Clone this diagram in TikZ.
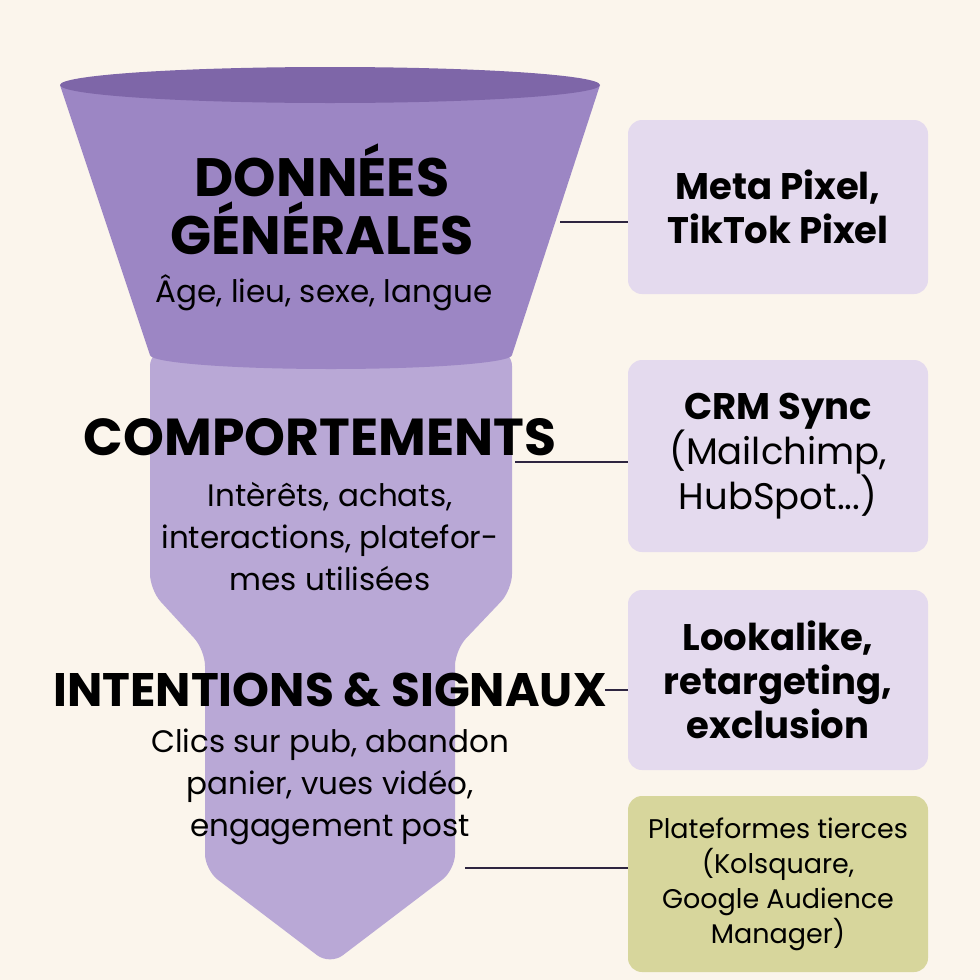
\documentclass[tikz,border=0pt]{standalone}
\usepackage{fontspec}
\setmainfont{Poppins}
\definecolor{cream}{HTML}{FBF5EC}
\definecolor{topdark}{HTML}{7E66A8}
\definecolor{funtop}{HTML}{9C86C4}
\definecolor{funlow}{HTML}{B9A8D6}
\definecolor{boxlila}{HTML}{E4DAEE}
\definecolor{boxolive}{HTML}{D7D69C}
\definecolor{linedark}{HTML}{2E2540}
\tikzset{
  infobox/.style={fill=boxlila, rounded corners=7pt, minimum width=150pt, align=center, font=\fontsize{18.5}{22}\selectfont\bfseries},
  title/.style={align=center, font=\fontsize{27}{29}\selectfont\bfseries},
  sub/.style={align=center, font=\fontsize{15.5}{21}\selectfont},
  link/.style={draw=linedark, line width=0.8pt}
}
\begin{document}
\begin{tikzpicture}[x=0.5pt,y=-0.5pt]
\fill[cream] (0,0) rectangle (980,980);
\useasboundingbox (0,0) rectangle (980,980);
% funnel
\fill[funlow, rounded corners=8pt] (150,350) -- (512,350) -- (512,590) -- (455,650) -- (455,870)
  -- (330,965) -- (205,870) -- (205,650) -- (150,590) -- cycle;
\fill[funtop] (60,85) -- (600,85) -- (512,355) arc[start angle=0, end angle=180, x radius=181, y radius=14] -- cycle;
\fill[topdark] (330,85) ellipse[x radius=270, y radius=18];
% texts in funnel
\node[title] (t1) at (322,199) {DONNÉES\\GÉNÉRALES};
\node[sub] (s1) at (324,293) {Âge, lieu, sexe, langue};
\node[title, font=\fontsize{26}{29}\selectfont\bfseries] (t2) at (320,437) {COMPORTEMENTS};
\node[sub] (s2) at (330,537) {Intèrêts, achats,\\interactions, platefor-\\mes utilisées};
\node[title, font=\fontsize{23.5}{29}\selectfont\bfseries] (t3) at (330,690) {INTENTIONS \& SIGNAUX};
\node[sub] (s3) at (330,787) {Clics sur pub, abandon\\panier, vues vidéo,\\engagement post};
% boxes
\node[infobox, minimum height=87pt] (b1) at (778,207) {Meta Pixel,\\TikTok Pixel};
\node[infobox, minimum height=96pt, font=\fontsize{18.5}{22.5}\selectfont\bfseries] (b2) at (778,456) {CRM Sync\\{\mdseries(Mailchimp,}\\{\mdseries HubSpot...)}};
\node[infobox, minimum height=90pt] (b3) at (778,680) {Lookalike,\\retargeting,\\exclusion};
\node[infobox, fill=boxolive, minimum height=88pt, font=\fontsize{13.5}{17.5}\selectfont] (b4) at (778,884) {Plateformes tierces\\(Kolsquare,\\Google Audience\\Manager)};
% links
\coordinate (c1) at (560,222);
\coordinate (c2) at (515,462);
\coordinate (c3) at (605,690);
\coordinate (c4) at (465,868);
\draw[link] (c1) -- (c1 -| b1.west);
\draw[link] (c2) -- (c2 -| b2.west);
\draw[link] (c3) -- (c3 -| b3.west);
\draw[link] (c4) -- (c4 -| b4.west);
\end{tikzpicture}
\end{document}
